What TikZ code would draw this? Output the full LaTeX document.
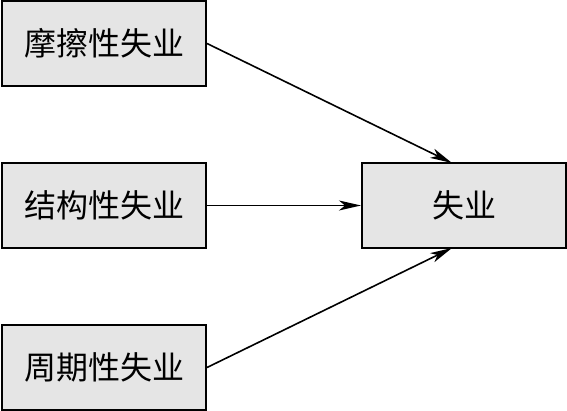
\documentclass[tikz,border=0pt]{standalone}
\usepackage{fontspec}
\newfontfamily\cjk{Noto Sans CJK SC}
\usetikzlibrary{arrows.meta}
\begin{document}
\begin{tikzpicture}[x=1pt,y=1pt,
  box/.style={draw=black,line width=2pt,fill=gray!20,minimum width=204pt,minimum height=85pt,inner sep=0pt,font=\cjk\fontsize{32}{32}\selectfont},
  arr/.style={line width=1.6pt,-{Stealth[length=22pt,width=10pt,inset=6pt]}}]
\useasboundingbox (0,0) rectangle (567,411);
\node[box] (a) at (104,367.5) {摩擦性失业};
\node[box] (b) at (104,205.5) {结构性失业};
\node[box] (c) at (104,43.5) {周期性失业};
\node[box] (d) at (464,205.5) {失业};
\coordinate (dt) at (452,248);
\coordinate (db) at (452,163);
\draw[arr] (a.east) -- (dt);
\draw[arr] (b.east) -- (d.west);
\draw[arr] (c.east) -- (db);
\end{tikzpicture}
\end{document}
